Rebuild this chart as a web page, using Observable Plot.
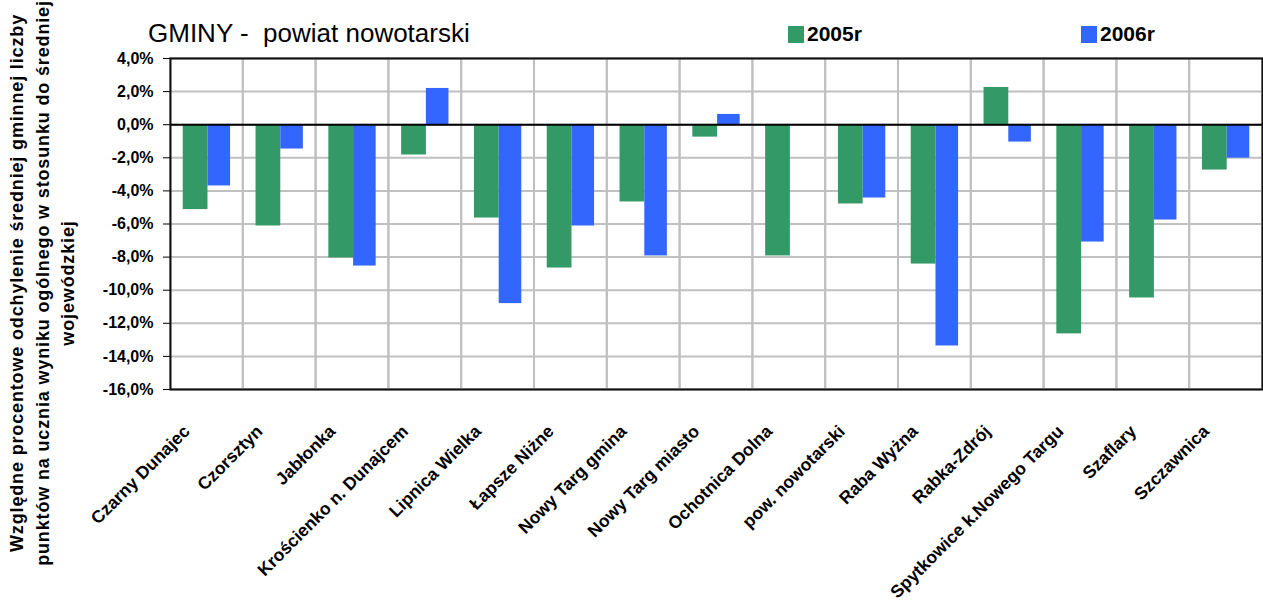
<!DOCTYPE html>
<html>
<head>
<meta charset="utf-8">
<script src="https://cdn.jsdelivr.net/npm/d3@7"></script>
<script src="https://cdn.jsdelivr.net/npm/@observablehq/plot@0.6"></script>
<style>
  html, body { margin: 0; padding: 0; background: #fff; }
  #wrap { position: relative; width: 1263px; height: 608px; overflow: hidden; font-family: "Liberation Sans", Arial, sans-serif; }
  #title { position: absolute; left: 148px; top: 18px; font-size: 26px; white-space: pre; color: #000; }
  .leg { position: absolute; top: 22px; font-size: 21px; font-weight: bold; display: flex; align-items: center; }
  .sw { width: 16px; height: 17px; margin-right: 3px; }
  #ytitle { position: absolute; width: 620px; height: 78px; left: -266px; top: 244px; transform: rotate(-90deg);
            text-align: center; font-size: 18px; font-weight: bold; line-height: 25.5px; letter-spacing: 0.85px; }
  svg { position: absolute; left: 0; top: 0; }
</style>
</head>
<body>
<div id="wrap">
  <div id="chart"></div>
  <div id="title">GMINY -  powiat nowotarski</div>
  <div class="leg" id="leg1"></div>
  <div class="leg" id="leg2"></div>
  <div id="ytitle">Względne procentowe odchylenie średniej gminnej liczby<br>punktów na ucznia wyniku ogólnego w stosunku do średniej<br>wojewódzkiej</div>
</div>
<script>
const categories = ["Czarny Dunajec", "Czorsztyn", "Jabłonka", "Krościenko n. Dunajcem", "Lipnica Wielka",
  "Łapsze Niżne", "Nowy Targ gmina", "Nowy Targ miasto", "Ochotnica Dolna", "pow. nowotarski",
  "Raba Wyżna", "Rabka-Zdrój", "Spytkowice k.Nowego Targu", "Szaflary", "Szczawnica"];
const series = ["2005r", "2006r"];
const values2005 = [-5.13, -6.12, -8.05, -1.83, -5.64, -8.66, -4.67, -0.75, -7.93, -4.79, -8.42, 2.25, -12.64, -10.47, -2.74];
const values2006 = [-3.70, -1.47, -8.54, 2.19, -10.81, -6.12, -7.93, 0.62, null, -4.43, -13.37, -1.05, -7.09, -5.76, -2.02];
const yTicks = [4, 2, 0, -2, -4, -6, -8, -10, -12, -14, -16];
const colors = ["#339966", "#3366FF"];

const rows2005 = categories.map((c, i) => ({cat: c, v: values2005[i]})).filter(d => d.v != null);
const rows2006 = categories.map((c, i) => ({cat: c, v: values2006[i]})).filter(d => d.v != null);

const W = 1263, H = 608, mL = 170, mR = 1, mT = 58, mB = 219;
const bw = (W - mL - mR) / categories.length;
const fmt = d => d.toFixed(1).replace(".", ",") + "%";

const chart = Plot.plot({
  width: W, height: H,
  marginLeft: mL, marginRight: mR, marginTop: mT, marginBottom: mB,
  style: {fontFamily: '"Liberation Sans", Arial, sans-serif', background: "#fff", color: "#000"},
  x: {domain: categories, padding: 0, round: false, label: null},
  y: {domain: [d3.min(yTicks), d3.max(yTicks)], label: null},
  marks: [
    Plot.gridY(yTicks, {stroke: "#c0c0c0", strokeOpacity: 1, strokeWidth: 2}),
    Plot.barY(categories, {x: d => d, y1: d3.min(yTicks), y2: d3.max(yTicks), fill: "none", stroke: "#c0c0c0", strokeWidth: 2}),
    Plot.barY(rows2005, {x: "cat", y: "v", fill: colors[0], insetLeft: bw * 0.175, insetRight: bw * 0.485}),
    Plot.barY(rows2006, {x: "cat", y: "v", fill: colors[1], insetLeft: bw * 0.515, insetRight: bw * 0.175}),
    Plot.ruleY([0], {stroke: "#000", strokeWidth: 2}),
    Plot.frame({stroke: "#111", strokeWidth: 2}),
    Plot.axisY(yTicks, {tickSize: 7, tickPadding: 10, tickFormat: fmt, fontSize: 16, fontWeight: "bold", stroke: "#000", label: null}),
    Plot.axisX({tickRotate: -45, tickSize: 0, tickPadding: 39, dx: -20, fontSize: 17.5, fontWeight: "bold", label: null})
  ]
});
document.getElementById("chart").appendChild(chart);

[["leg1", 788, 0], ["leg2", 1081, 1]].forEach(([id, left, i]) => {
  const el = document.getElementById(id);
  el.style.left = left + "px";
  el.innerHTML = `<span class="sw" style="background:${colors[i]}"></span><span>${series[i]}</span>`;
});
</script>
</body>
</html>
